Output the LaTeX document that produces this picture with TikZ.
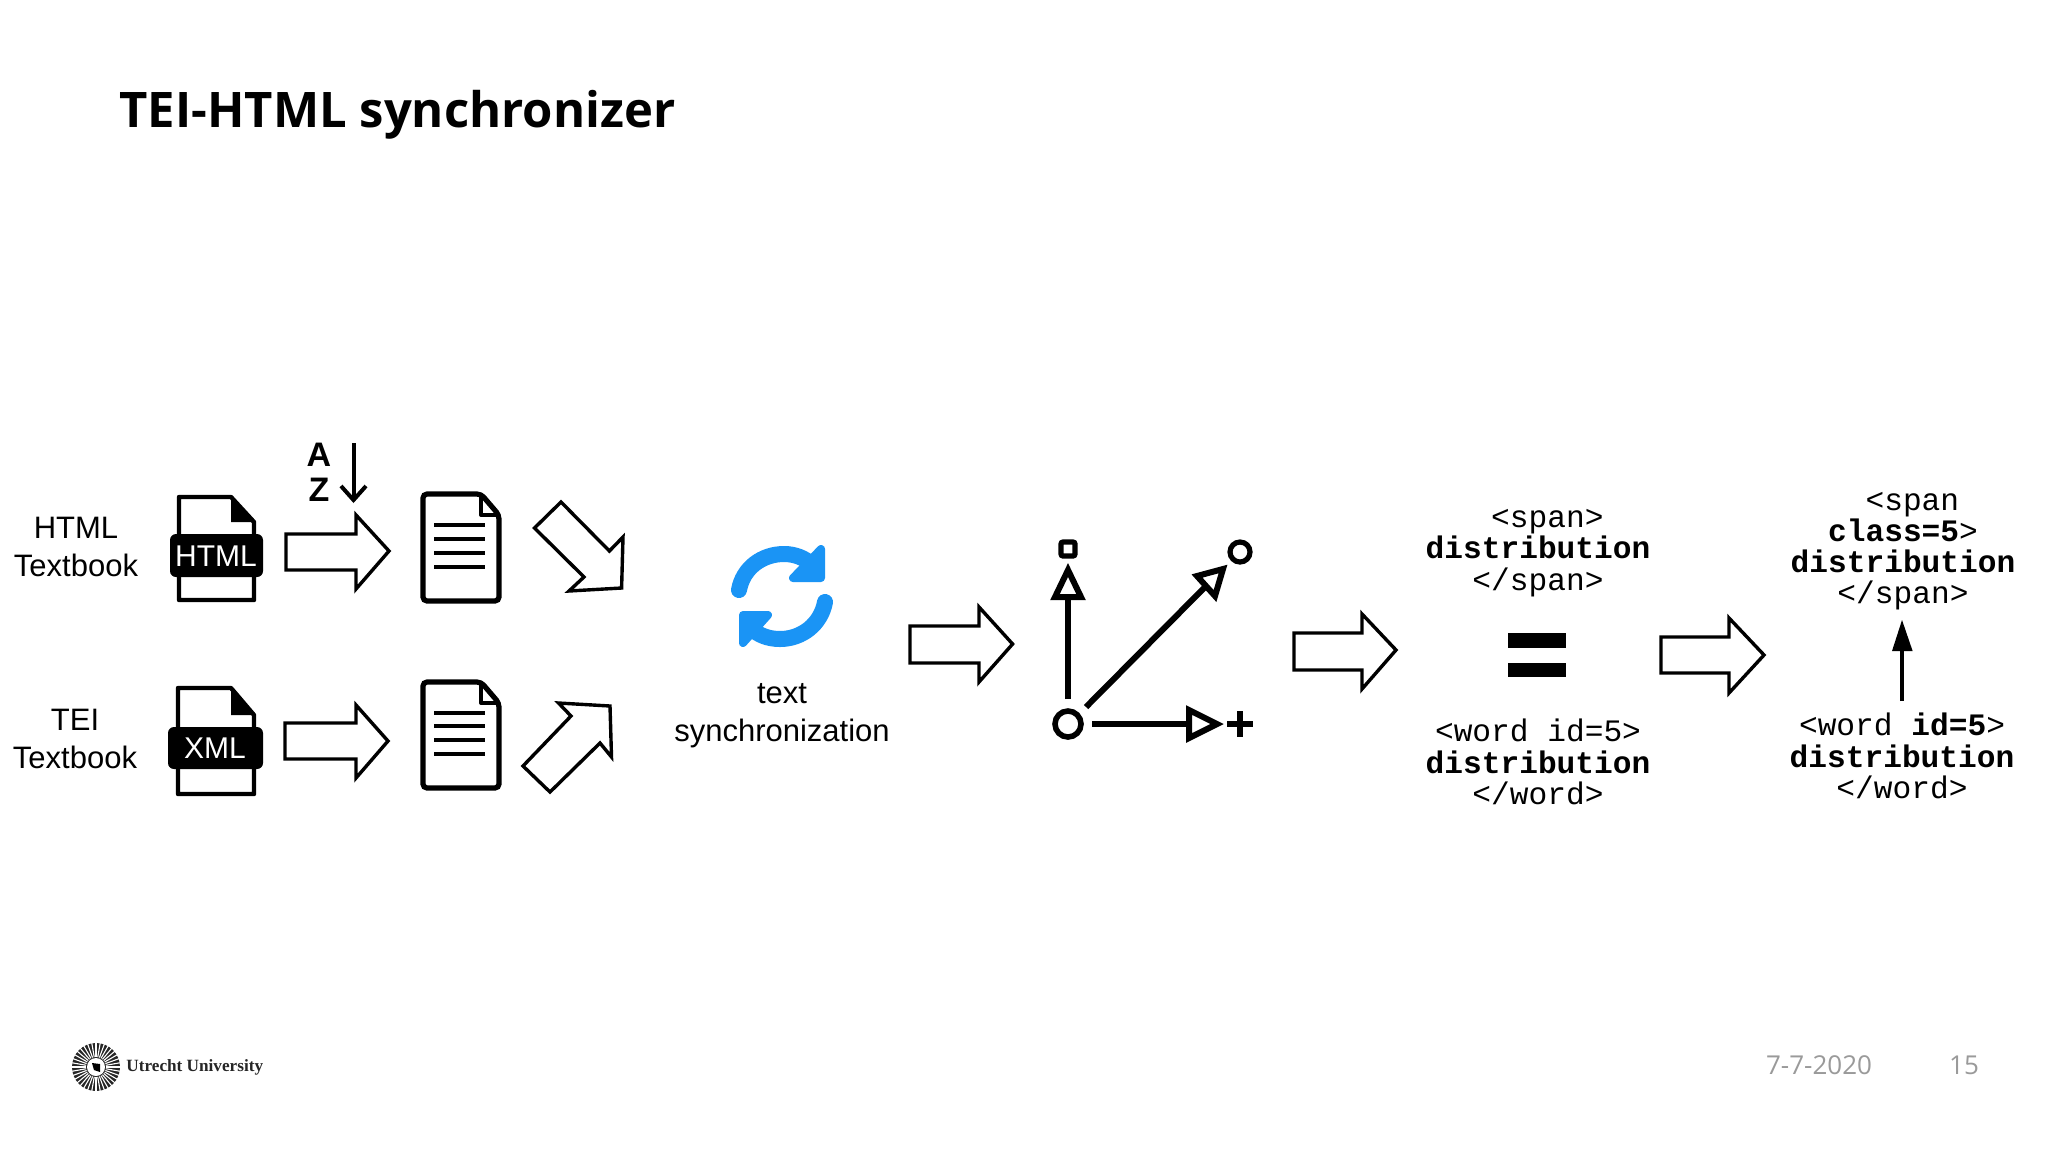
\documentclass[tikz,border=0pt]{standalone}
\usepackage{fontspec}
\setmainfont{Liberation Sans}
\setmonofont{Liberation Mono}
\newfontfamily\titlefont{Open Sans}
\newfontfamily\logofont{Liberation Serif}
\definecolor{syncblue}{HTML}{1A94F5}
\definecolor{footgray}{HTML}{9A9A9A}
\tikzset{
  blockarrow/.style={draw=black,fill=white,line width=1.7pt,line join=miter},
  filebody/.style={draw=black,fill=white,line width=2.2pt,line join=round},
  docbody/.style={draw=black,fill=white,line width=2.6pt,rounded corners=2pt},
  docline/.style={draw=black,line width=1.7pt},
  vecline/.style={draw=black,line width=3pt},
  vechead/.style={draw=black,fill=white,line width=3pt,line join=miter},
  label/.style={align=center,inner sep=0pt,font=\fontsize{15.5}{19}\selectfont},
  code/.style={align=center,inner sep=0pt,font=\ttfamily\fontsize{15.6}{15.6}\selectfont},
  badge/.style={inner sep=0pt,text=white,font=\fontsize{15}{15}\selectfont},
  sync/.style={draw=syncblue,line width=8pt,line cap=round},
  synchead/.style={fill=syncblue,draw=syncblue,line width=4pt,line join=round}
}
\begin{document}
\begin{tikzpicture}[x=0.5pt,y=-0.5pt]
\useasboundingbox (0,0) rectangle (2048,1152);
\fill[white] (0,0) rectangle (2048,1152);
% title
\node[anchor=west,inner sep=0pt,font=\titlefont\bfseries\fontsize{24.5}{26}\selectfont] (title) at (119,115) {TEI-HTML synchronizer};
% left labels
\node[label] (lhtml) at (76,547) {HTML\\Textbook};
\node[label] (ltei) at (75,739) {TEI\\Textbook};
% HTML file
\draw[filebody] (179,497) -- (231,497) -- (254,522) -- (254,600) -- (179,600) -- cycle;
\fill[black] (231,497) -- (254,522) -- (231,522) -- cycle;
\fill[black,rounded corners=3pt] (170,534) rectangle (263,577);
\node[badge] (thtml) at (216,556) {HTML};
% XML file
\draw[filebody] (178,688) -- (231,688) -- (254,715) -- (254,794) -- (178,794) -- cycle;
\fill[black] (231,688) -- (254,715) -- (231,715) -- cycle;
\fill[black,rounded corners=3pt] (168,727) rectangle (263,769);
\node[badge] (txml) at (215,748) {XML};
% block arrows row
\draw[blockarrow] (286,534) -- (356,534) -- (356,515) -- (389,551) -- (356,589) -- (356,570) -- (286,570) -- cycle;
\draw[blockarrow] (285,723) -- (356,723) -- (356,705) -- (388,741) -- (356,778) -- (356,759) -- (285,759) -- cycle;
% A-Z
\node[inner sep=0pt,font=\bfseries\fontsize{17}{17}\selectfont] (la) at (319,455) {A};
\node[inner sep=0pt,font=\bfseries\fontsize{17}{17}\selectfont] (lz) at (319,490) {Z};
\coordinate (aztop) at (353.5,443);
\coordinate (azbot) at (353.5,500);
\draw[black,line width=2pt] (aztop) -- (azbot);
\draw[black,line width=2pt,line join=miter] (341,486) -- (azbot) -- (366,486);
% documents
\draw[docbody] (481,494) -- (423,494) -- (423,601) -- (499,601) -- (499,515) -- cycle;
\draw[draw=black,line width=2pt,line join=round] (481,494) -- (481,515) -- (499,515);
\foreach \y in {525,539,553,567}{\draw[docline] (434,\y) -- (485,\y);}
\draw[docbody] (481,682) -- (423,682) -- (423,788) -- (499,788) -- (499,703) -- cycle;
\draw[draw=black,line width=2pt,line join=round] (481,682) -- (481,703) -- (499,703);
\foreach \y in {713,726,740,754}{\draw[docline] (434,\y) -- (485,\y);}
% diagonal block arrows
\draw[blockarrow] (561,502) -- (534.5,528) -- (584,577) -- (569,591) -- (621.6,588) -- (623,537) -- (609.4,551) -- cycle;
\draw[blockarrow] (523,766) -- (550,792) -- (600,743) -- (611.5,757) -- (610,706) -- (558.5,703) -- (571,716) -- cycle;
% sync icon
\draw[sync] (739,590) .. controls (743,568) and (762,554) .. (784,554) .. controls (795,554) and (805,558) .. (812,565);
\draw[synchead] (821,549) -- (821,578) -- (793,578) -- cycle;
\draw[sync] (825,602) .. controls (821,624) and (802,639) .. (780,639) .. controls (768,639) and (758,635) .. (751,628);
\draw[synchead] (743,615) -- (768,615) -- (743,643) -- cycle;
\node[label] (lsync) at (782,716) {text\\synchronization};
% arrow 3
\draw[blockarrow] (910,626) -- (979,626) -- (979,607) -- (1012.6,644) -- (979,682) -- (979,663) -- (910,663) -- cycle;
% vector diagram
\node[circle,draw=black,line width=2.8pt,minimum size=13pt,inner sep=0pt] (o) at (1068,724) {};
\node[rectangle,draw=black,line width=2.6pt,minimum size=7pt,inner sep=0pt,rounded corners=1pt] (sq) at (1068,549) {};
\node[circle,draw=black,line width=2.6pt,minimum size=10pt,inner sep=0pt] (c) at (1240,552) {};
\coordinate (p) at (1240,724);
\draw[black,line width=3pt] (1227,724) -- (1253,724) (p) ++(0,-13) -- ++(0,26);
\coordinate (upend) at (1068,598);
\coordinate (upstart) at (1068,699);
\draw[vecline] (upstart) -- (upend);
\draw[vechead] (1068,570) -- (1081,597) -- (1055,597) -- cycle;
\coordinate (dstart) at (1086,707);
\coordinate (dend) at (1206,586);
\draw[vecline] (dstart) -- (dend);
\draw[vechead] (1223,569) -- (1215,596) -- (1197,576) -- cycle;
\coordinate (rstart) at (1092,724);
\coordinate (rend) at (1189,724);
\draw[vecline] (rstart) -- (rend);
\draw[vechead] (1217,724) -- (1189,710) -- (1189,738) -- cycle;
% arrow 4
\draw[blockarrow] (1294,633) -- (1362,633) -- (1362,614) -- (1396,650) -- (1362,689) -- (1362,670) -- (1294,670) -- cycle;
% code block 1
\node[code] (c1) at (1538,553) {\hspace*{0.6em}<span>\\\textbf{distribution}\\</span>};
\fill[black] (1508,633) rectangle (1566,648);
\fill[black] (1508,663) rectangle (1566,677);
\node[code] (c2) at (1538,762) {<word id=5>\\\textbf{distribution}\\</word>};
% arrow 5
\draw[blockarrow] (1661,637) -- (1729,637) -- (1729,618) -- (1764,655) -- (1729,693) -- (1729,673) -- (1661,673) -- cycle;
% code block 2
\node[code] (c3) at (1903,551) {\hspace*{0.6em}<span\\\textbf{class=5}>\\\textbf{distribution}\\</span>};
\node[code] (c4) at (1902,756) {<word \textbf{id=5}>\\\textbf{distribution}\\</word>};
\coordinate (ustart) at (1902,701);
\coordinate (uend) at (1902,650);
\draw[black,line width=1.6pt] (ustart) -- (uend);
\fill[black] (1902,620) -- (1912.6,651) -- (1892,651) -- cycle;
% footer
\node[inner sep=0pt,text=footgray,font=\titlefont\fontsize{13}{14}\selectfont] (date) at (1819,1065) {7-7-2020};
\node[inner sep=0pt,text=footgray,font=\titlefont\fontsize{13}{14}\selectfont] (page) at (1964,1065) {15};
% logo
\fill[black!85] (96,1067) circle[radius=24];
\foreach \a in {0,10,...,350}{\draw[white,line width=0.55pt] (96,1067) ++(\a:10) -- ++(\a:15);}
\fill[white] (96,1067) circle[radius=9];
\fill[black] (96,1067) ++(-4,-4) -- ++(8,1) -- ++(0,8) -- ++(-6,-2) -- cycle;
\node[anchor=west,inner sep=0pt,text=black!85,font=\logofont\bfseries\fontsize{8.6}{9}\selectfont] (uu) at (126,1067) {Utrecht University};
\end{tikzpicture}
\end{document}
